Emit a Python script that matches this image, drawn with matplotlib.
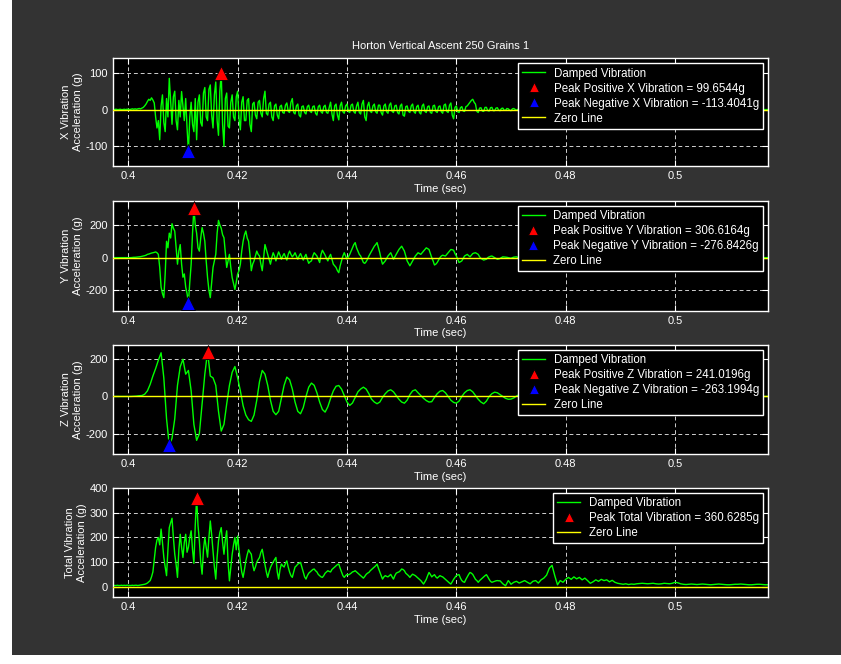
import numpy as np
import matplotlib
matplotlib.use('Agg')
import matplotlib.pyplot as plt
from matplotlib.patches import Rectangle

plt.rcParams['font.family'] = ['Liberation Sans', 'DejaVu Sans']
plt.rcParams['axes.unicode_minus'] = False

# sampling of the recorded signal (seconds)
# busy part of X / Y / Total is read at 0.25 ms, the quiet tail at 0.5 ms
early_start = 0.397
early_step = 0.00025
late_start = 0.471
late_step = 0.0005
# Z is smooth enough to read at 0.5 ms over the whole window
z_start = 0.397
z_step = 0.0005

# acceleration samples (g)
x_vib_early = [
    0, 0, 0, 1, 0, 0, 1, 0, 0, 1,
    0, 1, 1, 0, 1, 2, 1, 2, 1, 2,
    3, 2, 4, 6, 10, 15, 22, 28, 25, 32,
    26, 18, -20, -50, -30, -82, 10, 40, -35, -60,
    30, -20, 85, 20, -40, 35, 50, -30, -55, 25,
    -20, 49, 10, -30, 30, -50, -113.4041, -20, 20, -40,
    -60, 30, -82, 20, 40, -35, -45, 45, 60, -20,
    -30, 55, 67, -15, -50, 40, 75, -30, -70, 50,
    99.6544, -40, -100, 30, 45, -45, -50, 20, 40, -20,
    -30, 35, 50, -25, -55, 20, 35, -30, -30, 25,
    30, -40, -60, 15, 20, -15, -25, 20, 25, -10,
    -20, 30, 50, -10, -15, 15, 20, -20, -30, 10,
    15, -15, -25, 8, 12, -8, -10, 12, 18, -5,
    -8, 20, 30, -8, -12, 10, 15, -15, -20, 8,
    10, -8, -12, 8, 12, -5, -8, 8, 10, -10,
    -15, 8, 12, -6, -10, 8, 12, -8, -10, 6,
    20, -12, -30, 10, 15, -15, -28, 10, 20, -6,
    -10, 10, 15, -5, -8, 12, 15, -6, -10, 10,
    20, -8, -12, 15, 25, -20, -30, 10, 20, -5,
    -8, 10, 15, -6, -10, 12, 12, -8, -15, 10,
    15, -6, -10, 12, 18, -5, -8, 10, 12, -8,
    -12, 10, 15, -15, -18, 8, 10, -5, -8, 10,
    15, -6, -10, 8, 12, -8, -12, 10, 15, -5,
    -8, 8, 10, -8, -10, 10, 12, -5, -8, 8,
    10, -6, -10, 12, 15, -5, -8, 12, 18, -15,
    -25, 6, 10, -6, -8, 5, 8, -4, -5, 8,
    10, 15, 20, 25, 28, 20, 15, -5, -8, 4,
    5, -4, -5, 6, 6, -3, -4, 5, 6, -3,
    -3, 4, 5, -2, -3, 3, 4, -2, -2, 3,
    2, -2, -3, 2, 3,
]
x_vib_late = [
    -2, 3,
    -3, 2, -2, 3, -2, 2, -3, 2, -2, 2,
    -2, 3, -2, 2, -1, 2, -2, 1, -2, 2,
    -1, 2, -1, 1, -2, 1, -1, 2, -1, 1,
    -1, 1, -1, 2, -1, 1, -1, 1, -1, 1,
    -1, 1, -1, 1, 0, 1, -1, 1, 0, 1,
    -1, 1, 0, 1, -1, 0, 1, -1, 0, 1,
    0, -1, 1, 0, -1, 1, 0, -1, 0, 1,
    0, -1, 0, 1, 0, -1, 0, 1, 0, 0,
    -1, 0, 1, 0, 0, -1, 0, 1, 0, 0, 0,
]

y_vib_early = [
    0, 0, 0, 0, 0, 0, 0, 0, 0, 0,
    0, 0, 0, 0, 0, 1, 2, 2, 3, 4,
    5, 6, 8, 10, 12, 15, 20, 22, 25, 28,
    30, 32, 35, 30, 20, -60, -180, -220, -245, -100,
    100, 60, 150, 120, 208, 180, 163, 60, -40, 40,
    80, -40, -120, -100, -180, -220, -276.8426, -150, -40, 150,
    306.6164, 200, 150, 60, 40, 120, 184, 150, 100, -20,
    -122, -200, -245, -150, -60, -20, 20, 150, 228, 200,
    180, 140, 122, 30, -60, -20, 20, -60, -122, -160,
    -195, -150, -100, -80, -40, 40, 100, 140, 163, 120,
    100, 20, -80, -40, -20, 10, 40, 20, 10, -40,
    -80, 0, 80, 50, 20, -10, -40, 0, 30, 10,
    -20, 10, 35, 15, -10, 10, 25, 5, -15, 20,
    40, 20, 5, 15, 30, 10, -10, 10, 25, 5,
    -15, 5, 20, -10, -35, -25, -20, 10, 30, 20,
    10, -10, -30, 20, 45, 30, 15, -5, -20, 5,
    20, -10, -40, -50, -60, -80, -92, -50, -20, 10,
    30, 10, -10, 5, 20, 40, 60, 80, 92, 60,
    40, 20, 10, -10, -30, -35, -25, -10, 10, 25,
    40, 55, 70, 80, 92, 60, 30, -10, -40, -30,
    -20, -5, 10, 20, 30, 10, -10, 5, 20, 35,
    50, 60, 70, 55, 40, 10, -20, -35, -50, -35,
    -20, -5, 10, 20, 30, 25, 20, 30, 40, 50,
    60, 55, 50, 25, 0, -20, -45, -40, -30, -15,
    0, 10, 15, 12, 10, 20, 30, 40, 50, 48,
    45, 25, 10, -10, -30, -25, -20, -5, 10, 15,
    20, 12, 5, 15, 25, 28, 30, 25, 20, 5,
    -5, -10, -15, -12, -10, 0, 5, 8, 10, 5,
    0, -5, -10, -8, -5, 0, 5, 4, 3, 2,
    0, -2, -4, 0, 3,
]
y_vib_late = [
    5, -2,
    -4, 2, 4, -3, -2, 3, 2, -3, 1, 3,
    -2, -2, 2, 1, -2, 1, 2, -1, -1, 2,
    1, -2, 0, 2, -1, -1, 1, 1, -1, 0,
    1, -1, 0, 1, 0, -1, 1, 0, -1, 0,
    1, 0, -1, 0, 1, 0, -1, 0, 1, 0,
    0, -1, 0, 1, 0, 0, -1, 0, 1, 0,
    0, -1, 0, 0, 1, 0, 0, -1, 0, 0,
    1, 0, 0, -1, 0, 0, 1, 0, 0, -1,
    0, 0, 1, 0, 0, 0, -1, 0, 0, 0, 0,
]

z_vib = [
    0, 0, 0, 0, 0, 0, 0, 0, 1, 2,
    4, 5, 12, 30, 65, 110, 150, 195, 235, 100,
    -120, -263.1994, -225, -120, 60, 160, 200, 120, 140, 30,
    -150, -236, -200, -40, 120, 241.0196, 110, 100, 60, -80,
    -186, -150, -40, 60, 130, 161, 100, 30, -50, -100,
    -125, -134, -100, -20, 80, 140, 120, 60, -20, -80,
    -98, -80, -10, 60, 104, 90, 40, -30, -80, -93,
    -60, 0, 50, 72, 60, 20, -30, -70, -84, -55,
    -10, 30, 55, 59, 40, 5, -30, -48, -35, -5,
    25, 40, 50, 40, 15, -15, -30, -39, -30, -5,
    15, 30, 36, 25, 5, -15, -30, -36, -20, 10,
    30, 36, 20, 5, -10, -22, -30, -28, -5, 15,
    28, 32, 20, 0, -20, -32, -36, -25, 0, 20,
    32, 36, 25, 5, -15, -30, -39, -25, 0, 15,
    23, 20, 10, 0, -10, -15, -14, -8, 2, 10,
    14, 12, 5, -4, -10, -12, -9, -2, 5, 9,
    10, 6, 0, -6, -9, -8, -3, 3, 7, 8,
    5, 0, -5, -7, -6, -2, 3, 6, 6, 3,
    -1, -4, -5, -4, -1, 2, 4, 4, 2, -1,
    -3, -4, -3, 0, 2, 3, 3, 1, -1, -2,
    -3, -2, 0, 1, 2, 2, 1, 0, -1, -2,
    -2, -1, 0, 1, 1, 1, 0, -1, -1, -1,
    0, 0, 1, 1, 0, 0, -1, -1, 0, 0,
    1, 0, 0, 0, -1, 0, 0, 0, 0, 0, 0,
]

total_vib_early = [
    5, 6, 5, 5, 6, 5, 5, 6, 5, 6,
    5, 6, 6, 5, 5, 6, 5, 6, 6, 5,
    6, 7, 8, 9, 10, 12, 15, 20, 25, 40,
    60, 110, 160, 190, 200, 170, 234, 180, 120, 80,
    45, 150, 240, 260, 278, 200, 132, 90, 38, 150,
    213, 160, 119, 180, 213, 140, 160, 200, 227, 150,
    95, 250, 360.6285, 250, 186, 100, 51, 150, 200, 160,
    120, 200, 267, 210, 146, 80, 31, 120, 186, 220,
    240, 180, 132, 190, 227, 100, 24, 80, 132, 170,
    200, 150, 206, 150, 100, 60, 38, 70, 105, 130,
    150, 140, 132, 90, 65, 80, 100, 110, 119, 140,
    152, 120, 90, 60, 38, 60, 78, 90, 100, 110,
    119, 60, 31, 70, 92, 85, 80, 95, 105, 80,
    60, 45, 38, 60, 80, 85, 92, 95, 99, 80,
    60, 40, 31, 45, 55, 60, 65, 70, 72, 65,
    60, 50, 45, 40, 38, 45, 55, 60, 65, 62,
    60, 70, 75, 80, 85, 90, 92, 75, 60, 45,
    38, 45, 50, 48, 51, 55, 60, 62, 65, 60,
    55, 50, 45, 40, 35, 42, 50, 55, 58, 65,
    70, 75, 80, 85, 92, 75, 60, 45, 31, 40,
    45, 42, 40, 45, 50, 40, 31, 45, 55, 58,
    60, 65, 72, 70, 65, 55, 50, 45, 38, 45,
    51, 48, 45, 40, 35, 30, 25, 18, 11, 20,
    30, 45, 58, 50, 40, 45, 49, 40, 35, 40,
    45, 42, 40, 35, 30, 25, 20, 15, 11, 20,
    30, 38, 45, 48, 49, 35, 25, 20, 18, 30,
    40, 50, 58, 55, 50, 40, 30, 25, 18, 25,
    30, 35, 40, 45, 49, 40, 30, 22, 18, 20,
    22, 24, 25, 24, 24, 18, 12, 8, 4, 15,
    25, 18, 10, 14, 18,
]
total_vib_late = [
    22, 15,
    20, 25, 18, 12, 22, 25, 15, 28, 35, 47,
    75, 87, 45, 8, 25, 18, 30, 38, 30, 40,
    32, 38, 28, 35, 25, 14, 20, 28, 22, 30,
    25, 28, 20, 26, 18, 14, 12, 10, 12, 9,
    11, 10, 12, 13, 14, 13, 12, 13, 14, 12,
    11, 12, 14, 13, 12, 14, 18, 16, 12, 10,
    9, 10, 11, 10, 9, 10, 11, 10, 9, 8,
    9, 10, 11, 10, 9, 8, 8, 9, 10, 10,
    11, 10, 9, 8, 8, 9, 10, 10, 9, 8, 8,
]

title = 'Horton Vertical Ascent 250 Grains 1'
axis_names = ['X', 'Y', 'Z', 'Total']
y_labels = ['X Vibration\nAcceleration (g)', 'Y Vibration\nAcceleration (g)',
            'Z Vibration\nAcceleration (g)', 'Total Vibration\nAcceleration (g)']
y_ticks = [[-100, 0, 100], [-200, 0, 200], [-200, 0, 200], [0, 100, 200, 300, 400]]
y_limits = [(-153.5, 139.5), (-325, 347), (-311, 278.5), (-43, 402)]
x_ticks = [0.4, 0.42, 0.44, 0.46, 0.48, 0.5]
x_tick_labels = ['0.4', '0.42', '0.44', '0.46', '0.48', '0.5']
x_limits = (0.39715, 0.51706)

for early, late in [(x_vib_early, x_vib_late), (y_vib_early, y_vib_late),
                    (total_vib_early, total_vib_late)]:
    assert len(early) == 295 and len(late) == 93, (len(early), len(late))
assert len(z_vib) == 241, len(z_vib)

t_two_rate = np.concatenate([early_start + early_step * np.arange(len(x_vib_early)),
                             late_start + late_step * np.arange(len(x_vib_late))])
t_z = z_start + z_step * np.arange(len(z_vib))

times = [t_two_rate, t_two_rate, t_z, t_two_rate]
series = [np.array(x_vib_early + x_vib_late), np.array(y_vib_early + y_vib_late),
          np.array(z_vib), np.array(total_vib_early + total_vib_late)]

# panel rectangles in figure fractions (left, bottom, width, height)
positions = [
    [0.134, 0.750, 0.7796, 0.1622],
    [0.134, 0.5321, 0.7796, 0.1652],
    [0.134, 0.3158, 0.7796, 0.1651],
    [0.134, 0.1004, 0.7796, 0.1651],
]

bg = '#333333'
fig = plt.figure(figsize=(8.41, 6.64), dpi=100)
fig.patch.set_facecolor('white')
# dark figure area, with the thin light strip left and bottom
fig.patches.append(Rectangle((12 / 841, 9 / 664), 1, 1, transform=fig.transFigure,
                             facecolor=bg, edgecolor='none', zorder=-10))

for k, name in enumerate(axis_names):
    ax = fig.add_axes(positions[k])
    ax.set_facecolor('black')
    t = times[k]
    vals = series[k]

    ax.plot(t, vals, color='#00ff00', linewidth=1.0, label='Damped Vibration', zorder=2)

    i_max = np.argmax(vals)
    i_min = np.argmin(vals)
    if name == 'Total':
        ax.plot(t[i_max], vals[i_max], '^', color='red', markeredgecolor='black',
                markeredgewidth=0.6, markersize=10, linestyle='none',
                label='Peak Total Vibration = %.4fg' % vals[i_max], zorder=4)
    else:
        ax.plot(t[i_max], vals[i_max], '^', color='red', markeredgecolor='black',
                markeredgewidth=0.6, markersize=10, linestyle='none',
                label='Peak Positive %s Vibration = %.4fg' % (name, vals[i_max]), zorder=4)
        ax.plot(t[i_min], vals[i_min], '^', color='blue', markeredgecolor='black',
                markeredgewidth=0.6, markersize=10, linestyle='none',
                label='Peak Negative %s Vibration = %.4fg' % (name, vals[i_min]), zorder=4)

    ax.axhline(0, color='#ffff00', linewidth=1.0, label='Zero Line', zorder=3)

    ax.set_xlim(*x_limits)
    ax.set_ylim(*y_limits[k])
    ax.set_xticks(x_ticks)
    ax.set_xticklabels(x_tick_labels)
    ax.set_yticks(y_ticks[k])

    ax.grid(True, color='#d0d0d0', linestyle=(0, (4, 3)), linewidth=0.7)
    ax.set_axisbelow(True)
    for sp in ax.spines.values():
        sp.set_color('white')
        sp.set_linewidth(1.0)
    ax.tick_params(direction='in', length=4, width=0.8, colors='white',
                   labelsize=8, top=True, right=True)
    for lab in ax.get_xticklabels() + ax.get_yticklabels():
        lab.set_color('white')

    ax.set_xlabel('Time (sec)', color='white', fontsize=8, labelpad=2)
    ax.set_ylabel(y_labels[k], color='white', fontsize=8, labelpad=2)

    leg = ax.legend(loc='upper right', fontsize=8.3, numpoints=1, markerscale=0.65,
                    facecolor='black', edgecolor='white', framealpha=1, fancybox=False,
                    borderaxespad=0.45, labelspacing=0.26, handlelength=2.0,
                    handletextpad=0.75, borderpad=0.35)
    leg.get_frame().set_linewidth(1.0)
    leg.set_zorder(10)
    for txt in leg.get_texts():
        txt.set_color('white')

    if k == 0:
        ax.set_title(title, color='white', fontsize=8, pad=7)

fig.savefig('out.png', dpi=100, facecolor=fig.get_facecolor())
